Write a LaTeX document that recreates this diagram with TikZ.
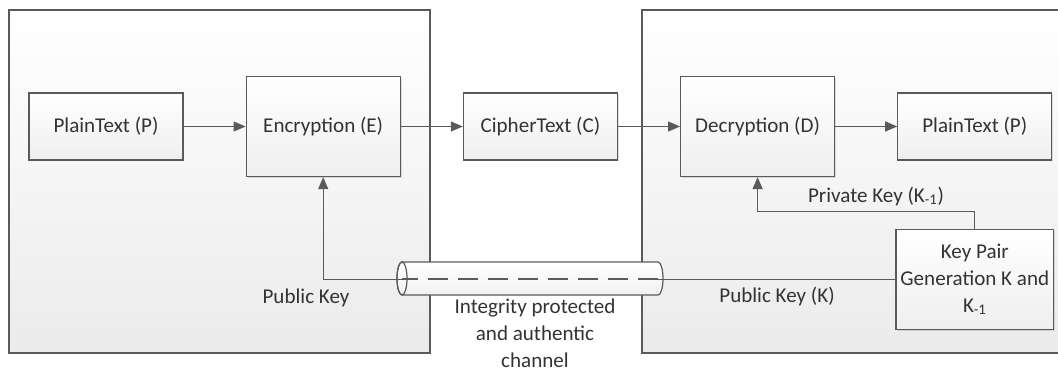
\documentclass[tikz,border=0pt]{standalone}
\usepackage{fontspec}
\setmainfont{Carlito}
\usetikzlibrary{positioning,arrows.meta,shadows}
\definecolor{LineGray}{HTML}{5A5A5A}
\definecolor{TextGray}{HTML}{333333}
\definecolor{PanelGray}{HTML}{EBEBEB}
\tikzstyle{Region}=[draw=LineGray, line width=0.9pt, top color=white, bottom color=PanelGray, drop shadow={shadow xshift=1pt, shadow yshift=-1pt, opacity=0.2}]
\tikzstyle{StageBox}=[rectangle, draw=LineGray, line width=0.9pt, top color=white, bottom color=PanelGray!80, minimum width=115.5pt, minimum height=50.25pt, align=center, text=TextGray, drop shadow={shadow xshift=1pt, shadow yshift=-1pt, opacity=0.25}]
\tikzstyle{ProcessBox}=[StageBox, minimum height=75pt]
\tikzstyle{Tube}=[draw=LineGray, line width=0.9pt, top color=white, bottom color=PanelGray!70]
\tikzstyle{Label}=[text=TextGray, align=center]
\tikzstyle{Linea}=[draw=LineGray, line width=0.9pt]
\tikzstyle{Flecha}=[Linea, -{Triangle[length=9pt, width=7.5pt]}]
\tikzstyle{Canal}=[draw=LineGray, line width=1.6pt, dash pattern=on 15pt off 7.5pt]

\begin{document}
\begin{tikzpicture}[x=0.75pt, y=-0.75pt, font=\fontsize{15.8}{20.25}\selectfont]
			\useasboundingbox (0,0) rectangle (1058,371);

			%Regiones
			\draw[Region] (9,10) rectangle (430,353);
			\draw[Region] (642,10) rectangle (1075,353);

			%Nodos
			\node[StageBox]		(plain_in)		at (106,126.5)					{PlainText (P)};
			\node[ProcessBox]	(encryption)	[right=46.5pt of plain_in]		{Encryption (E)};
			\node[StageBox]		(cipher)		[right=46.5pt of encryption]	{CipherText (C)};
			\node[ProcessBox]	(decryption)	[right=46.5pt of cipher]		{Decryption (D)};
			\node[StageBox]		(plain_out)		[right=46.5pt of decryption]	{PlainText (P)};
			\node[ProcessBox]	(key_pair)		[below=51pt of plain_out]		{Key Pair\\Generation K and\\K\textsubscript{-1}};

			%Canal
			\coordinate (tube_west) at (402,278.5);
			\coordinate (tube_east) at (658,278.5);
			\draw[Tube] (402,262) -- (658,262) arc[start angle=90, end angle=-90, x radius=3.75pt, y radius=12.4pt]
				-- (402,295) arc[start angle=270, end angle=90, x radius=3.75pt, y radius=12.4pt] -- cycle;
			\draw[Linea] (tube_west) ellipse[x radius=3.75pt, y radius=12.4pt];

			%Etiquetas
			\node[Label]	(public_key)	at (306,298)	{Public Key};
			\node[Label]	(channel_text)	at (535,333)	{Integrity protected\\and authentic\\channel};
			\node[Label]	(public_key_k)	at (777,296)	{Public Key (K)};
			\node[Label]	(private_key)	at (876,196)	{Private Key (K\textsubscript{-1})};

			%Lineas
			\draw[Flecha] (plain_in.east) -- (encryption.west);
			\draw[Flecha] (encryption.east) -- (cipher.west);
			\draw[Flecha] (cipher.east) -- (decryption.west);
			\draw[Flecha] (decryption.east) -- (plain_out.west);
			\draw[Flecha] (key_pair.north) -- ++(0,-17) -| (decryption.south);
			\draw[Linea] (key_pair.west) -- (tube_east |- key_pair.west);
			\draw[Canal] (tube_east |- key_pair.west) -- (tube_west |- key_pair.west);
			\draw[Flecha] ([xshift=8pt]tube_west |- key_pair.west) -| (encryption.south);

		\end{tikzpicture}
\end{document}
